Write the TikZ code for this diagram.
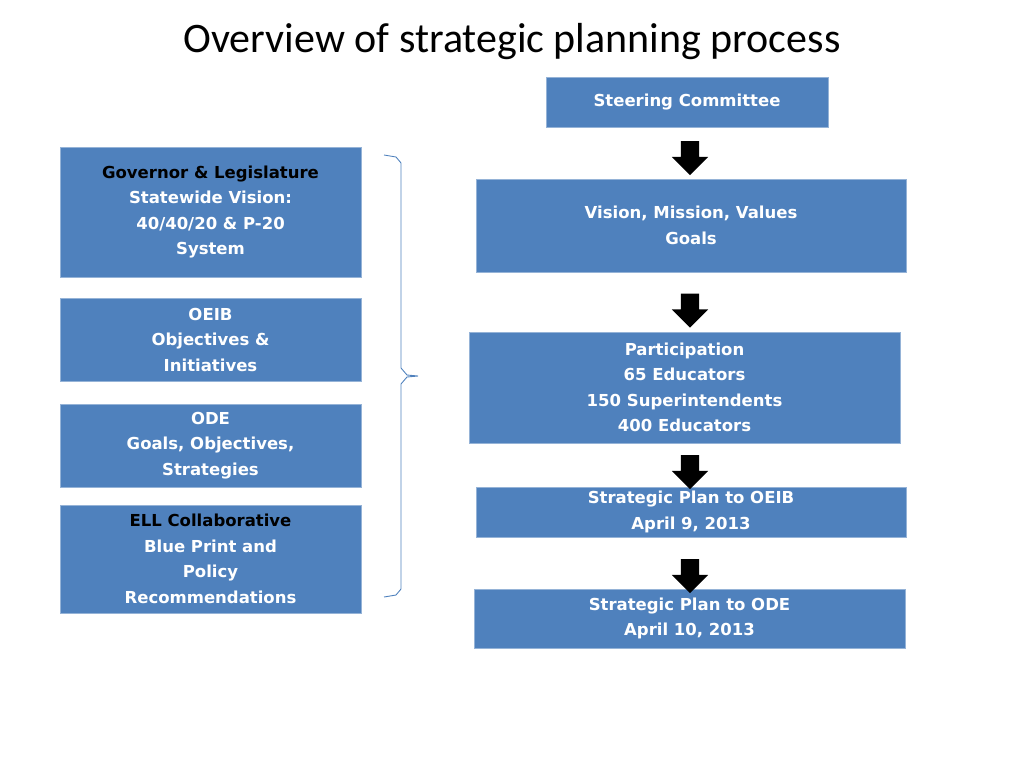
\documentclass[tikz,border=0pt]{standalone}
\usepackage{fontspec}
\setmainfont{DejaVu Sans}
\newfontfamily\titlefont{Carlito}
\usetikzlibrary{shapes.arrows}
\definecolor{boxblue}{HTML}{4F81BD}
\tikzset{
  stagebox/.style={fill=boxblue, draw=boxblue!60!white, line width=0.8pt, text=white,
    font=\bfseries\fontsize{16.5}{25.5}\selectfont, align=center, inner sep=0pt},
  downarrow/.style={fill=black, shape=single arrow, shape border rotate=270,
    minimum height=34pt, minimum width=36pt, single arrow head extend=9pt, inner sep=9pt}
}
\begin{document}
\begin{tikzpicture}[x=1pt, y=-1pt]
    \useasboundingbox (0,0) rectangle (1024,768);
    \node [font=\titlefont\fontsize{42}{48}\selectfont] (title) at (512,42) {Overview of strategic planning process};

    % left column
    \node [stagebox, minimum width=301pt, minimum height=130pt] (gov) at (210.5,212)
        {\textcolor{black}{Governor \& Legislature}\\Statewide Vision:\\40/40/20 \& P-20\\System};
    \node [stagebox, minimum width=301pt, minimum height=83pt] (oeib) at (210.5,339.5)
        {OEIB\\Objectives \&\\Initiatives};
    \node [stagebox, minimum width=301pt, minimum height=83pt] (ode) at (210.5,445.5)
        {ODE\\Goals, Objectives,\\Strategies};
    \node [stagebox, minimum width=301pt, minimum height=108pt] (ell) at (210.5,559)
        {\textcolor{black}{ELL Collaborative}\\Blue Print and\\Policy\\Recommendations};

    % brace
    \draw [boxblue, line width=0.9pt] (384,155) -- (396,157) -- (401,163) -- (401,368)
        -- (407,375) -- (418,376) -- (407,377) -- (401,384) -- (401,589) -- (396,595) -- (384,597);

    % right column
    \node [stagebox, minimum width=282pt, minimum height=50pt] (steer) at (687,102) {Steering Committee};
    \node [stagebox, minimum width=430pt, minimum height=93pt] (vision) at (691,225.5)
        {Vision, Mission, Values\\Goals};
    \node [stagebox, minimum width=431pt, minimum height=111pt] (part) at (684.5,387.5)
        {Participation\\65 Educators\\150 Superintendents\\400 Educators};
    \node [stagebox, minimum width=430pt, minimum height=50pt] (planoeib) at (691,512)
        {Strategic Plan to OEIB\\April 9, 2013};
    \node [stagebox, minimum width=431pt, minimum height=59pt] (planode) at (689.5,618.5)
        {Strategic Plan to ODE\\April 10, 2013};

    \node [downarrow] (a1) at (690,153.5) {};
    \node [downarrow] (a2) at (690,306) {};
    \node [downarrow] (a3) at (690,467.5) {};
    \node [downarrow] (a4) at (690,571.5) {};
\end{tikzpicture}
\end{document}
